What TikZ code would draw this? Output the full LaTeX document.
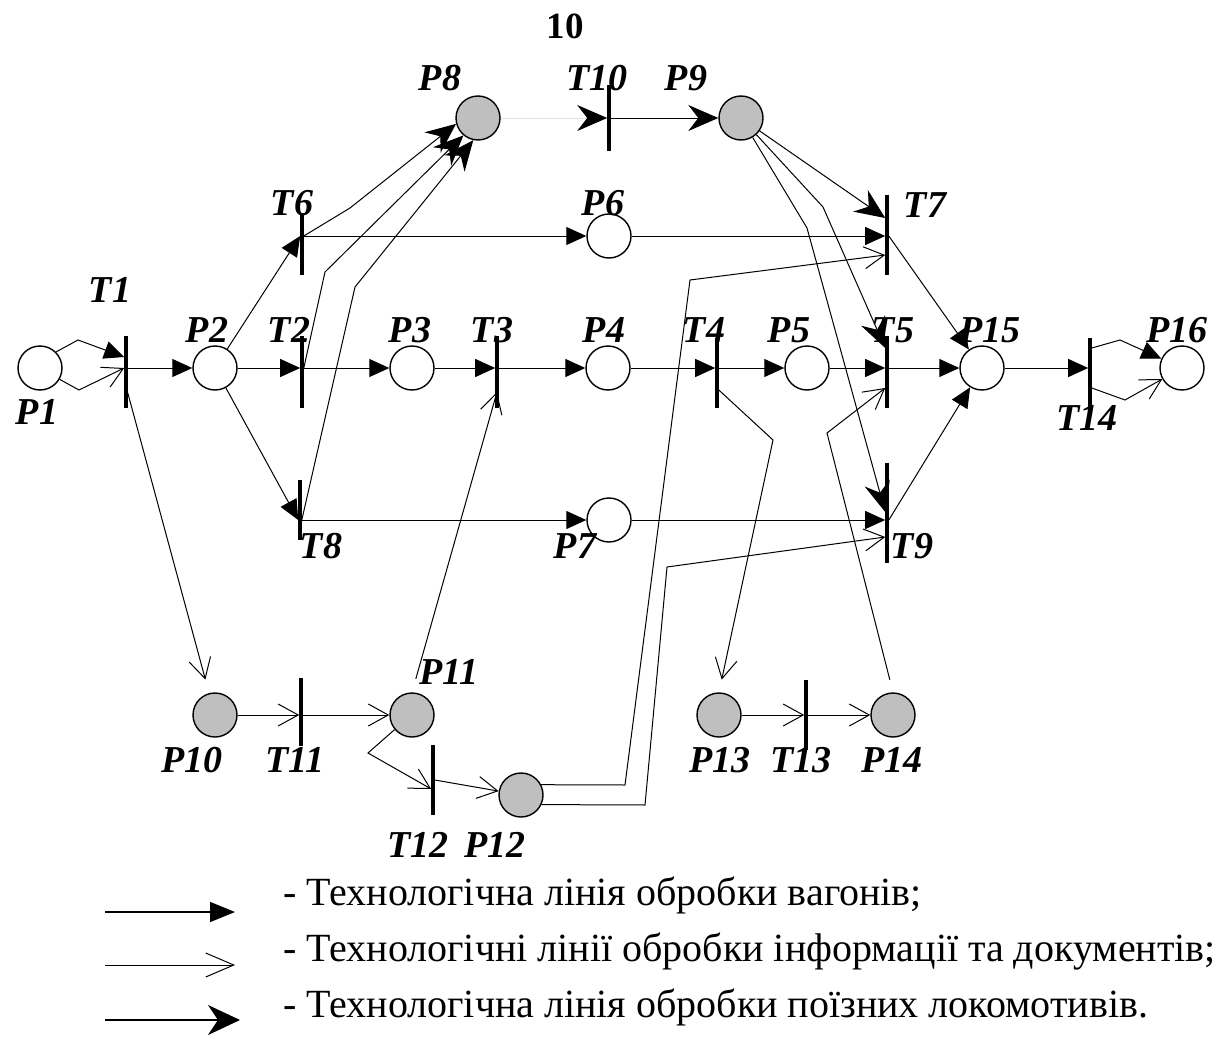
\documentclass[tikz,border=0pt]{standalone}
\usepackage{fontspec}
\setmainfont{Liberation Serif}
\usetikzlibrary{arrows.meta,calc}
\begin{document}
\begin{tikzpicture}[x=1pt,y=-1pt,
  place/.style={circle,draw,line width=1.4pt,minimum size=44pt,inner sep=0pt,fill=white},
  gplace/.style={place,fill=black!25},
  bar/.style={rectangle,fill=black,draw=none,minimum width=3.2pt,inner sep=0pt},
  lbl/.style={font=\fontsize{38}{38}\selectfont\bfseries\itshape,inner sep=0pt},
  wag/.style={line width=1pt,-{Triangle[length=20pt,width=18pt]}},
  inf/.style={line width=1pt,-{Straight Barb[length=20pt,width=22pt]}},
  loco/.style={line width=1pt,-{Stealth[length=30pt,width=26pt,inset=10pt,color=black]}},
  legtext/.style={font=\fontsize{40}{42}\selectfont,anchor=base west,inner sep=0pt}
]
\useasboundingbox (0,0) rectangle (1219,1041);

% places
\node[place]  (P1)  at (40,368) {};
\node[place]  (P2)  at (215,368) {};
\node[place]  (P3)  at (412,368) {};
\node[place]  (P4)  at (608,368) {};
\node[place]  (P5)  at (807,368) {};
\node[place]  (P15) at (982,368) {};
\node[place]  (P16) at (1182,368) {};
\node[place]  (P6)  at (609,236) {};
\node[place]  (P7)  at (609,520) {};
\node[gplace] (P8)  at (478,118) {};
\node[gplace] (P9)  at (741,118) {};
\node[gplace] (P10) at (215,715) {};
\node[gplace] (P11) at (412,715) {};
\node[gplace] (P12) at (521,795) {};
\node[gplace] (P13) at (719,715) {};
\node[gplace] (P14) at (893,715) {};

% transitions
\node[bar,minimum height=72pt] (T1)  at (126,372) {};
\node[bar,minimum height=72pt] (T2)  at (302,372) {};
\node[bar,minimum height=72pt] (T3)  at (497,372) {};
\node[bar,minimum height=70pt] (T4)  at (717,373) {};
\node[bar,minimum height=72pt] (T5)  at (887,372) {};
\node[bar,minimum height=62pt] (T6)  at (302,244) {};
\node[bar,minimum height=80pt] (T7)  at (887,235) {};
\node[bar,minimum height=60pt] (T8)  at (300,510) {};
\node[bar,minimum height=100pt] (T9) at (887,513) {};
\node[bar,minimum height=66pt] (T10) at (609,118) {};
\node[bar,minimum height=68pt] (T11) at (301,712) {};
\node[bar,minimum height=70pt] (T12) at (433,780) {};
\node[bar,minimum height=70pt] (T13) at (806,715) {};
\node[bar,minimum height=76pt] (T14) at (1090,376) {};

% labels
\node[font=\fontsize{37}{37}\selectfont\bfseries,inner sep=0pt] (pg) at (565,26) {10};
\node[lbl] (lP1)  at (37,412)  {P1};
\node[lbl] (lT1)  at (110,290) {T1};
\node[lbl] (lP2)  at (207,330) {P2};
\node[lbl] (lT2)  at (289,330) {T2};
\node[lbl] (lP3)  at (410,330) {P3};
\node[lbl] (lT3)  at (492,330) {T3};
\node[lbl] (lP4)  at (604,330) {P4};
\node[lbl] (lT4)  at (704,330) {T4};
\node[lbl] (lP5)  at (789,330) {P5};
\node[lbl] (lT5)  at (893,330) {T5};
\node[lbl] (lP15) at (990,330) {P15};
\node[lbl] (lP16) at (1177,330) {P16};
\node[lbl] (lT14) at (1087,418) {T14};
\node[lbl] (lT6)  at (292,203) {T6};
\node[lbl] (lP6)  at (603,203) {P6};
\node[lbl] (lT7)  at (925,205) {T7};
\node[lbl] (lP8)  at (440,78)  {P8};
\node[lbl] (lT10) at (597,78)  {T10};
\node[lbl] (lP9)  at (686,78)  {P9};
\node[lbl] (lT8)  at (321,546) {T8};
\node[lbl] (lP7)  at (575,546) {P7};
\node[lbl] (lT9)  at (912,546) {T9};
\node[lbl] (lP11) at (449,672) {P11};
\node[lbl] (lP10) at (192,760) {P10};
\node[lbl] (lT11) at (295,760) {T11};
\node[lbl] (lP13) at (720,760) {P13};
\node[lbl] (lT13) at (801,760) {T13};
\node[lbl] (lP14) at (892,760) {P14};
\node[lbl] (lT12) at (418,845) {T12};
\node[lbl] (lP12) at (495,845) {P12};

% wagon lines
\draw[wag] (P1.45) -- (78,340) -- ($(T1.west |- P1)+(0,-11)$);
\draw[wag] (T1.east |- P2) -- (P2);
\draw[wag] (P2) -- (T2.west |- P2);
\draw[wag] (T2.east |- P3) -- (P3);
\draw[wag] (P3) -- (T3.west |- P3);
\draw[wag] (T3.east |- P4) -- (P4);
\draw[wag] (P4) -- (T4.west |- P4);
\draw[wag] (T4.east |- P5) -- (P5);
\draw[wag] (P5) -- (T5.west |- P5);
\draw[wag] (T5.east |- P15) -- (P15);
\draw[wag] (P15) -- (T14.west |- P15);
\draw[wag] ($(T14.east |- P16)+(0,-20)$) -- (1120,340) -- (P16);
\draw[wag] (P2) -- (T6.west |- P6);
\draw[wag] (P2) -- (T8.west |- P7);
\draw[wag] (T6.east |- P6) -- (P6);
\draw[wag] (T8.east |- P7) -- (P7);
\draw[wag] (P6) -- (T7.west |- P6);
\draw[wag] (P7) -- (T9.west |- P7);
\draw[wag] (T7.east |- P6) -- (P15);
\draw[wag] (T9.east |- P7) -- (P15);

% locomotive lines
\draw[loco] (T6.east |- P6) -- (350,208) -- (P8.195);
\draw[loco] (T2.east |- P3) -- (325,272) -- (P8.230);
\draw[loco] (T8.east |- P7) -- (355,287) -- (P8.258);
\draw[loco,draw=black!12] (P8) -- (T10.west |- P8);
\draw[loco] (T10.east |- P9) -- (P9);
\draw[loco] (P9) -- ($(T7.west |- P6)+(0,-18)$);
\draw[loco] (P9) -- (823,207) -- ($(T5.west |- P5)+(0,-20)$);
\draw[loco] (P9) -- (807,228) -- ($(T9.west |- P7)+(0,-8)$);

% information lines
\draw[inf] (P1.-30) -- (79,390) -- (T1.west |- P1);
\draw[inf] ($(T14.east |- P16)+(0,20)$) -- (1125,400) -- (P16);
\draw[inf,shorten >=14pt] ($(T1.east |- P1)+(0,25)$) -- (P10);
\draw[inf] (P10) -- (T11.west |- P10);
\draw[inf] (T11.east |- P11) -- (P11);
\draw[inf,shorten <=14pt] (P11.north) -- ($(T3.center |- P4)+(0,24)$);
\draw[inf] (P11.220) -- (368,753) -- ($(T12.west)+(0,9)$);
\draw[inf] (T12.east) -- (P12);
\draw[inf] (P12.27) -- (625,785) -- (690,280) -- ($(T7.west |- P6)+(0,19)$);
\draw[inf] (P12.-25) -- (645,805) -- (667,567) -- ($(T9.west |- P7)+(0,17)$);
\draw[inf,shorten >=13pt] ($(T4.east |- P4)+(0,22)$) -- (773,440) -- (P13.north);
\draw[inf] (P13) -- (T13.west |- P13);
\draw[inf] (T13.east |- P14) -- (P14);
\draw[inf,shorten <=13pt] (P14.north) -- (827,433) -- ($(T5.west |- P5)+(0,20)$);

% legend
\coordinate (La1) at (105,912); \coordinate (Lb1) at (235,912);
\coordinate (La2) at (105,965); \coordinate (Lb2) at (235,965);
\coordinate (La3) at (105,1020); \coordinate (Lb3) at (240,1020);
\draw[line width=1.5pt,-{Triangle[length=25pt,width=20pt]}] (La1) -- (Lb1);
\draw[line width=1pt,-{Straight Barb[length=28pt,width=24pt]}] (La2) -- (Lb2);
\draw[line width=2pt,-{Stealth[length=32pt,width=30pt,inset=10pt]}] (La3) -- (Lb3);
\node[legtext] (L1) at (283,905) {- Технологічна лінія обробки вагонів;};
\node[legtext] (L2) at (283,961) {- Технологічні лінії обробки інформації та документів;};
\node[legtext] (L3) at (283,1017) {- Технологічна лінія обробки поїзних локомотивів.};
\end{tikzpicture}
\end{document}
